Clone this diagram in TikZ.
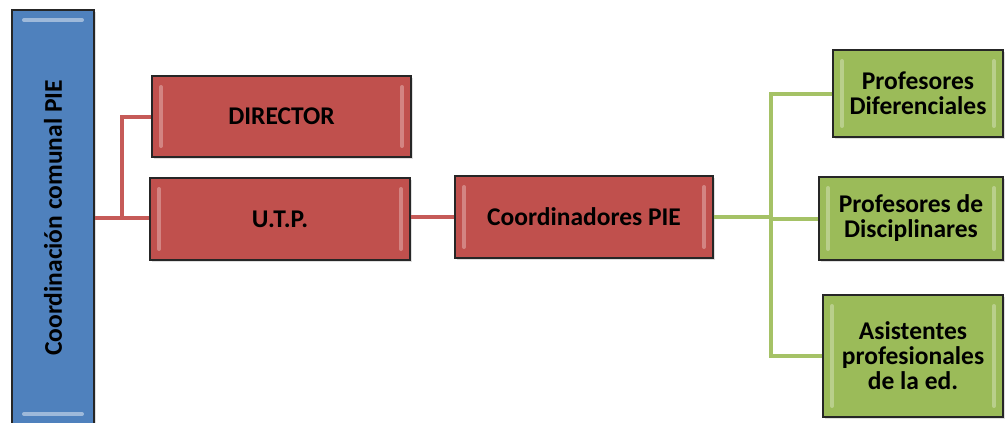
\documentclass[tikz,border=0pt]{standalone}
\usepackage{fontspec}
\setmainfont{Carlito}
\usepackage{graphicx}
\usetikzlibrary{positioning,shadows}
\definecolor{boxred}{HTML}{C0504D}
\definecolor{boxgreen}{HTML}{9BBB59}
\definecolor{boxblue}{HTML}{4F81BD}
\definecolor{linered}{HTML}{C65B58}
\definecolor{linegreen}{HTML}{A5C266}

\tikzset{
  box/.style={draw=black!85, line width=1.4pt, text=black, align=center,
    font=\fontsize{25.5}{25}\selectfont\bfseries, inner sep=4pt,
    drop shadow={opacity=0.25, shadow xshift=2pt, shadow yshift=-2pt}},
  sidebevel/.style={path picture={
      \draw[white, opacity=0.3, line width=4pt, line cap=round]
        ([xshift=9pt,yshift=-11pt]path picture bounding box.north west) --
        ([xshift=9pt,yshift=11pt]path picture bounding box.south west);
      \draw[white, opacity=0.3, line width=4pt, line cap=round]
        ([xshift=-9pt,yshift=-11pt]path picture bounding box.north east) --
        ([xshift=-9pt,yshift=11pt]path picture bounding box.south east);}},
  topbevel/.style={path picture={
      \draw[white, opacity=0.45, line width=4pt, line cap=round]
        ([xshift=12pt,yshift=-10pt]path picture bounding box.north west) --
        ([xshift=-12pt,yshift=-10pt]path picture bounding box.north east);
      \draw[white, opacity=0.45, line width=4pt, line cap=round]
        ([xshift=12pt,yshift=12pt]path picture bounding box.south west) --
        ([xshift=-12pt,yshift=12pt]path picture bounding box.south east);}},
  redbox/.style={box, fill=boxred, sidebevel},
  greenbox/.style={box, fill=boxgreen, sidebevel},
  bluebox/.style={box, fill=boxblue, topbevel},
  redline/.style={draw=linered, line width=4pt},
  greenline/.style={draw=linegreen, line width=4pt}
}

\begin{document}
\begin{tikzpicture}[x=1pt, y=-1pt]
  \useasboundingbox (0,0) rectangle (1005,423);

  % left column
  \node[bluebox, minimum width=82pt, minimum height=416pt] (comunal) at (53,218)
    {\rotatebox{90}{Coordinación comunal PIE}};

  % red boxes
  \node[redbox, minimum width=259pt, minimum height=81pt] (director) at (281.5,116.5) {DIRECTOR};
  \node[redbox, minimum width=260pt, minimum height=82pt] (utp) at (280,219) {U.T.P.};
  \node[redbox, minimum width=258pt, minimum height=82pt] (coordpie) at (584,217) {Coordinadores PIE};

  % green boxes
  \node[greenbox, minimum width=170pt, minimum height=87pt] (difer) at (918,93.5) {Profesores\\Diferenciales};
  \node[greenbox, minimum width=184pt, minimum height=83pt] (discip) at (911,218.5) {Profesores de\\Disciplinares};
  \node[greenbox, minimum width=180pt, minimum height=122pt] (asist) at (913,356) {Asistentes\\profesionales\\de la ed.};

  % connectors
  \coordinate (rjoin) at (122,218);
  \coordinate (gjoin) at (771,217);
  \draw[redline] (comunal.east |- rjoin) -- (rjoin -| utp.west);
  \draw[redline] (rjoin) |- (director.west);
  \draw[redline] (utp.east |- coordpie.west) -- (coordpie.west);
  \draw[greenline] (coordpie.east) -- (gjoin);
  \draw[greenline] (difer.west) -| (gjoin |- asist.west) -- (asist.west);
  \draw[greenline] (gjoin |- discip.west) -- (discip.west);
\end{tikzpicture}
\end{document}
